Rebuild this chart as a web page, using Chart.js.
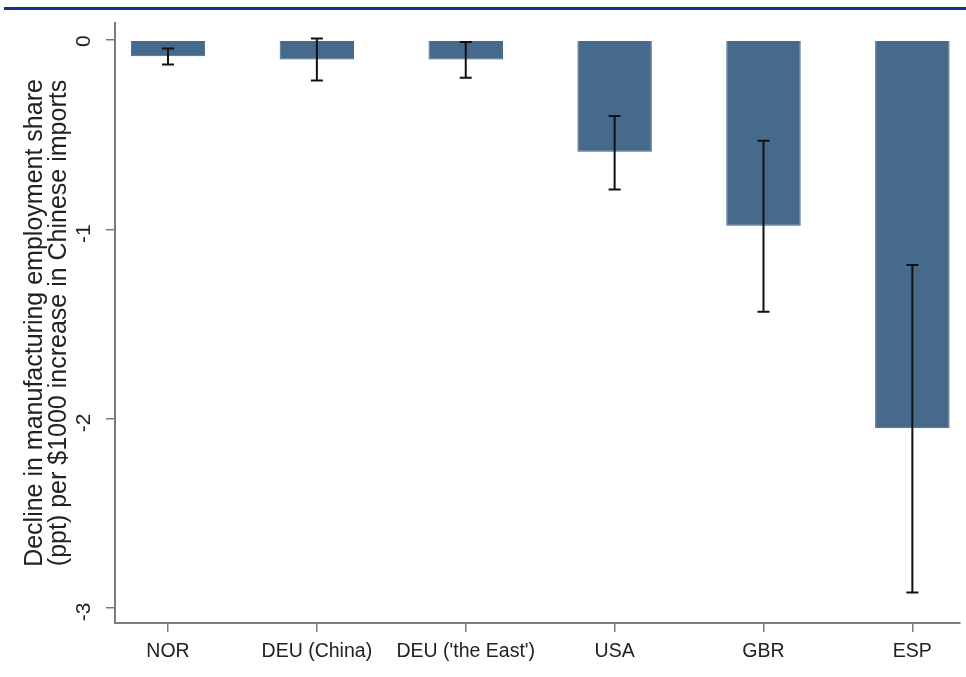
<!DOCTYPE html>
<html>
<head>
<meta charset="utf-8">
<script src="https://cdn.jsdelivr.net/npm/chart.js@4"></script>
<style>
    html, body { margin: 0; padding: 0; background: #ffffff; }
    #wrap { position: relative; width: 966px; height: 677px; }
    #topRule { position: absolute; left: 4px; right: 0; top: 7px; height: 3px; background: #0a3896; }
    #chart { position: absolute; left: 0; top: 0; }
</style>
</head>
<body>
<div id="wrap">
    <div id="topRule"></div>
    <canvas id="chart" width="966" height="677"></canvas>
</div>
<script>
// Country estimates (ppt decline per $1000 increase in Chinese imports)
const categories = ['NOR', 'DEU (China)', "DEU ('the East')", 'USA', 'GBR', 'ESP'];
const effects = [-0.085, -0.102, -0.102, -0.590, -0.981, -2.051];
const ciUpper = [-0.044, 0.009, -0.009, -0.400, -0.532, -1.189];
const ciLower = [-0.128, -0.213, -0.199, -0.789, -1.435, -2.920];
const yTicks = [-3, -2, -1, 0];

const axisGrey = '#7a7a7a';
const textColor = '#222222';
const fontFamily = '"Liberation Sans", Arial, sans-serif';

// Draw confidence intervals on top of the bars
const errorBarPlugin = {
    id: 'errorBars',
    afterDatasetsDraw(chart) {
        const ctx = chart.ctx;
        const xs = chart.scales.x;
        const ys = chart.scales.y;
        const cap = 6;
        ctx.save();
        ctx.strokeStyle = '#111111';
        ctx.lineWidth = 2;
        categories.forEach((c, i) => {
            const x = xs.getPixelForValue(i);
            const yTop = ys.getPixelForValue(ciUpper[i]);
            const yBot = ys.getPixelForValue(ciLower[i]);
            ctx.beginPath();
            ctx.moveTo(x, yTop);
            ctx.lineTo(x, yBot);
            ctx.moveTo(x - cap, yTop);
            ctx.lineTo(x + cap, yTop);
            ctx.moveTo(x - cap, yBot);
            ctx.lineTo(x + cap, yBot);
            ctx.stroke();
        });
        ctx.restore();
    }
};

new Chart(document.getElementById('chart').getContext('2d'), {
    type: 'bar',
    data: {
        datasets: [{
            data: effects.map((v, i) => ({ x: i, y: v })),
            backgroundColor: '#466a8c',
            borderColor: '#3a5c80',
            borderWidth: 1,
            categoryPercentage: 1,
            barPercentage: 0.5
        }]
    },
    options: {
        responsive: false,
        animation: false,
        layout: { padding: { top: 23, right: 6, left: 0, bottom: 0 } },
        plugins: {
            legend: { display: false },
            tooltip: { enabled: false }
        },
        scales: {
            x: {
                type: 'linear',
                offset: false,
                min: -0.356,
                max: 5.32,
                afterBuildTicks: axis => { axis.ticks = categories.map((c, i) => ({ value: i })); },
                afterFit: axis => { axis.height = 54; axis.paddingLeft = 0; axis.paddingRight = 0; },
                ticks: {
                    callback: v => categories[v],
                    color: textColor,
                    font: { family: fontFamily, size: 19.5 },
                    padding: 8,
                    maxRotation: 0,
                    autoSkip: false
                },
                grid: { offset: false, drawOnChartArea: false, drawTicks: true, tickLength: 9, color: axisGrey, lineWidth: 1.5 },
                border: { color: axisGrey, width: 2 }
            },
            y: {
                min: -3.081,
                max: 0.091,
                afterBuildTicks: axis => { axis.ticks = yTicks.map(v => ({ value: v })); },
                afterFit: axis => { axis.width = 115; axis.paddingTop = 0; axis.paddingBottom = 0; },
                ticks: {
                    minRotation: 90,
                    maxRotation: 90,
                    labelOffset: -5,
                    color: textColor,
                    font: { family: fontFamily, size: 21 },
                    padding: 22
                },
                title: {
                    display: true,
                    text: ['Decline in manufacturing employment share', '(ppt) per $1000 increase in Chinese imports'],
                    color: textColor,
                    font: { family: fontFamily, size: 25, lineHeight: 0.95 },
                    padding: { top: 23, bottom: 0 }
                },
                grid: { drawOnChartArea: false, drawTicks: true, tickLength: 9, color: axisGrey, lineWidth: 1.5 },
                border: { color: axisGrey, width: 2 }
            }
        }
    },
    plugins: [errorBarPlugin]
});
</script>
</body>
</html>
